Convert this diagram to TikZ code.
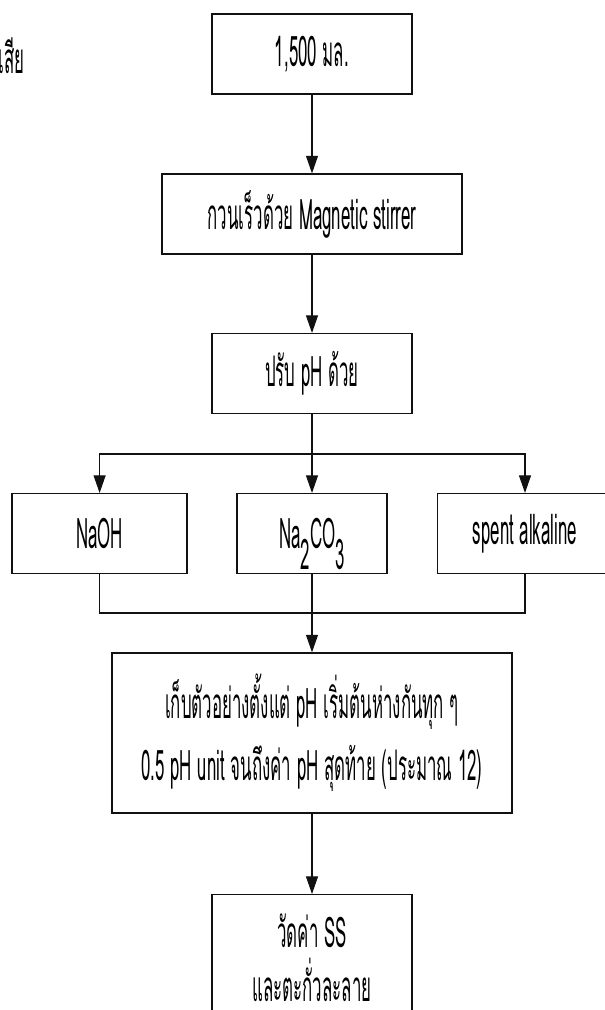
\documentclass[tikz,border=0pt]{standalone}
\usepackage{fontspec}
\setmainfont{Loma}[Script=Thai,FakeStretch=0.40]
\usepackage{xcolor}
\definecolor{ink}{HTML}{111111}
\usepackage{tikz}
\usetikzlibrary{arrows.meta,positioning,calc}
\tikzset{
  >={Triangle[length=4.4mm,width=3mm]},
  box/.style    ={draw=ink,fill=white,line width=0.9pt,
                  font=\fontsize{30}{35}\selectfont,minimum height=20mm,
                  minimum width=50mm,align=center,inner sep=2pt},
  flow/.style   ={->,draw=ink,line width=0.8pt},
  link/.style   ={draw=ink,line width=0.8pt},
}
\begin{document}
\begin{tikzpicture}
\clip (0,0) rectangle (15.125,-25.25);
% cut-off heading
\node[font=\fontsize{30}{35}\selectfont,anchor=east,inner sep=0pt] (title) at (0.62,-1.4) {เสีย};
% main chain
\node[box] (start)  at (7.8,-1.35)  {1,500 มล.};
\node[box,minimum width=75mm] (stir) at (7.8,-5.35) {กวนเร็วด้วย Magnetic stirrer};
\node[box] (adjust) at (7.8,-9.34)  {ปรับ pH ด้วย};
\draw[flow] (start) -- (stir);
\draw[flow] (stir) -- (adjust);
% three alkalis
\node[box,minimum width=43.75mm] (naoh)  at (2.49,-13.34)   {NaOH};
\node[box,minimum width=37.5mm]  (soda)  at (7.8,-13.34)
  {Na\smash{\raisebox{-0.5em}{2}}CO\smash{\raisebox{-0.5em}{3}}};
\node[box,minimum width=43.75mm] (spent) at (13.125,-13.34) {spent alkaline};
\coordinate (split) at (7.8,-11.35);
\draw[link] (adjust) -- (split);
\draw[flow] (split) -| (naoh);
\draw[flow] (split) -- (soda);
\draw[flow] (split) -| (spent);
% sampling
\node[box,minimum width=100mm,minimum height=40mm] (sample) at (7.8,-18.325)
  {เก็บตัวอย่างตั้งแต่ pH เริ่มต้นห่างกันทุก ๆ\\[9pt] 0.5 pH unit จนถึงค่า pH สุดท้าย (ประมาณ 12)};
\coordinate (join) at (7.8,-15.325);
\draw[link] (naoh) |- (join);
\draw[link] (spent) |- (join);
\draw[flow] (soda) -- (sample);
% measurement
\node[box,minimum height=31.5mm,anchor=north] (measure) at (7.8,-22.35)
  {วัดค่า SS\\[3pt] และตะกั่วละลาย};
\draw[flow] (sample) -- (measure);
\end{tikzpicture}
\end{document}
